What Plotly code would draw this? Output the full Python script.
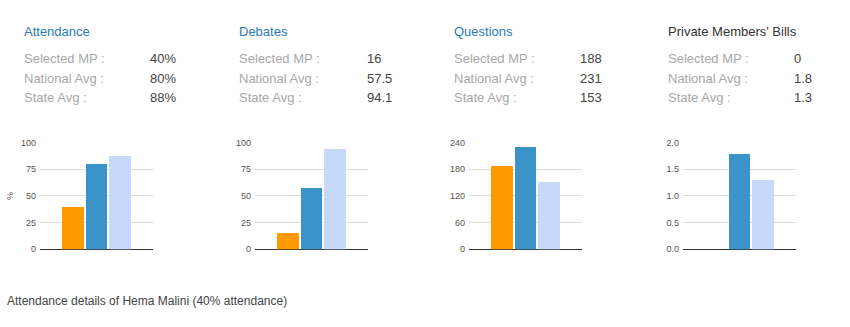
import plotly.graph_objects as go

W, H = 850, 327

titles = ["Attendance", "Debates", "Questions", "Private Members' Bills"]
row_labels = ["Selected MP :", "National Avg :", "State Avg :"]
value_texts = [["40%", "80%", "88%"], ["16", "57.5", "94.1"], ["188", "231", "153"], ["0", "1.8", "1.3"]]
series_values = [[40, 80, 88], [16, 57.5, 94.1], [188, 231, 153], [0, 1.8, 1.3]]
y_ticks = [[0, 25, 50, 75, 100], [0, 25, 50, 75, 100], [0, 60, 120, 180, 240], [0, 0.5, 1.0, 1.5, 2.0]]
y_ticktext = [["0", "25", "50", "75", "100"], ["0", "25", "50", "75", "100"],
              ["0", "60", "120", "180", "240"], ["0.0", "0.5", "1.0", "1.5", "2.0"]]
footer = "Attendance details of Hema Malini (40% attendance)"

bar_colors = ["#ff9900", "#3a93c9", "#c6d9f9"]
title_colors = ["#2a7ab8", "#2a7ab8", "#2a7ab8", "#333333"]

plot_left = [40, 255, 469, 683]
plot_w = 113
text_left = [22, 237, 452, 666]
value_left = [148, 365, 578, 792]
y_top_px, y_zero_px = 142, 252

def px(x):
    return x / W

def py(y):
    return 1 - y / H

fig = go.Figure()
annotations = []
for i in range(4):
    xa = "x" if i == 0 else f"x{i+1}"
    ya = "y" if i == 0 else f"y{i+1}"
    fig.add_trace(go.Bar(
        x=[0, 1, 2], y=series_values[i], marker_color=bar_colors, marker_line_width=0,
        width=0.93, xaxis=xa, yaxis=ya, showlegend=False, hoverinfo="skip"))
    xkey = "xaxis" if i == 0 else f"xaxis{i+1}"
    ykey = "yaxis" if i == 0 else f"yaxis{i+1}"
    fig.layout[xkey] = dict(
        domain=[px(plot_left[i]), px(plot_left[i] + plot_w)], range=[-1.4, 3.4],
        showticklabels=False, showgrid=False, zeroline=False, showline=False,
        anchor=ya, fixedrange=True)
    fig.layout[ykey] = dict(
        domain=[py(y_zero_px), py(y_top_px)], range=[0, y_ticks[i][-1]],
        tickvals=y_ticks[i], ticktext=y_ticktext[i], showgrid=True,
        gridcolor="#dcdcdc", gridwidth=1, zeroline=True, zerolinecolor="#333333",
        zerolinewidth=1, showline=False, ticks="", ticklabelstandoff=3,
        tickfont=dict(family="Liberation Sans, Arial", size=9, color="#555555"),
        anchor=xa, fixedrange=True)
    annotations.append(dict(
        text=titles[i], x=px(text_left[i]), y=py(27), xref="paper", yref="paper",
        xanchor="left", yanchor="middle", showarrow=False,
        font=dict(family="Liberation Sans, Arial", size=13, color=title_colors[i])))
    for r in range(3):
        yy = py(55.5 + r * 20)
        annotations.append(dict(
            text=row_labels[r], x=px(text_left[i]), y=yy, xref="paper", yref="paper",
            xanchor="left", yanchor="middle", showarrow=False,
            font=dict(family="Liberation Sans, Arial", size=13, color="#a8a8a8")))
        annotations.append(dict(
            text=value_texts[i][r], x=px(value_left[i]), y=yy, xref="paper", yref="paper",
            xanchor="left", yanchor="middle", showarrow=False,
            font=dict(family="Liberation Sans, Arial", size=13, color="#444444")))

annotations.append(dict(
    text="%", x=px(10), y=py(197), xref="paper", yref="paper", textangle=-90,
    xanchor="center", yanchor="middle", showarrow=False,
    font=dict(family="Liberation Sans, Arial", size=9, color="#555555")))
annotations.append(dict(
    text=footer, x=px(5), y=py(305), xref="paper", yref="paper",
    xanchor="left", yanchor="middle", showarrow=False,
    font=dict(family="Liberation Sans, Arial", size=12, color="#444444")))

fig.update_layout(
    width=W, height=H, margin=dict(l=0, r=0, t=0, b=0),
    paper_bgcolor="white", plot_bgcolor="white", annotations=annotations,
    bargap=0)

fig.write_html("out.html", config={"displayModeBar": False})
